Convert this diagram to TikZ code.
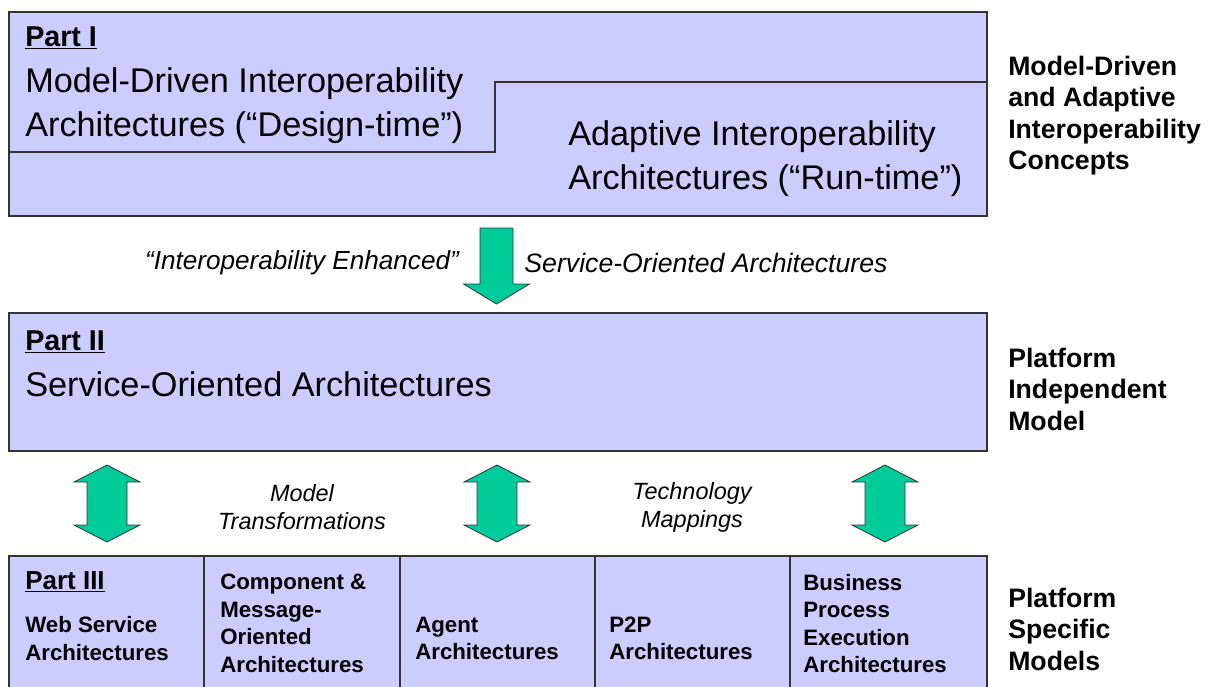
\documentclass[tikz,border=0pt]{standalone}
\usepackage{fontspec}
\setmainfont{Liberation Sans}
\usetikzlibrary{positioning,fit}

\definecolor{boxfill}{HTML}{CCCCFF}
\definecolor{arrowfill}{HTML}{00CC99}
\definecolor{edge}{HTML}{333333}

\begin{document}
\begin{tikzpicture}[x=0.75pt,y=-0.75pt,
  part box/.style={draw=edge, line width=1pt, fill=boxfill, inner sep=0pt},
  arrow body/.style={draw=edge, line width=0.6pt, fill=arrowfill, line join=miter},
  title/.style={font=\fontsize{21.5}{26}\selectfont\bfseries, inner sep=0pt, anchor=west},
  big text/.style={font=\fontsize{25.7}{33}\selectfont, align=left, inner sep=0pt, anchor=west},
  cell text/.style={font=\fontsize{16.7}{20.6}\selectfont\bfseries, align=left, inner sep=0pt, anchor=west},
  side text/.style={font=\fontsize{20}{23.6}\selectfont\bfseries, align=left, inner sep=0pt, anchor=west},
  note/.style={font=\fontsize{17.6}{21}\selectfont\itshape, align=center, inner sep=0pt},
  down arrow/.pic={
    \draw[arrow body] (-16.5,0) -- (16.5,0) -- (16.5,56) -- (33,56) -- (0,76)
      -- (-33,56) -- (-16.5,56) -- cycle;
  },
  both arrow/.pic={
    \draw[arrow body] (0,-38.5) -- (33,-21.5) -- (20,-21.5) -- (20,21.5) -- (33,21.5)
      -- (0,38.5) -- (-33,21.5) -- (-20,21.5) -- (-20,-21.5) -- (-33,-21.5) -- cycle;
  },
  ]
  \useasboundingbox (0,0) rectangle (1209,686);
  \clip (0,0) rectangle (1209,686);

  % Part I
  \node[part box, fit={(9,12) (987,216)}] (partI) {};
  \draw[draw=edge, line width=1pt] (9,152) -- (495,152) -- (495,82) -- (987,82);
  \node[title] (partItitle) at (25,38) {\underline{Part I}};
  \node[big text] (design) at (25,106) {Model-Driven Interoperability\\Architectures (“Design-time”)};
  \node[big text] (runtime) at (568,158.5) {Adaptive Interoperability\\Architectures (“Run-time”)};

  % enhancement arrow
  \pic at (496.5,228) {down arrow};
  \node[note, font=\fontsize{19.6}{24}\selectfont\itshape] (enhanced) at (302,263) {“Interoperability Enhanced”};
  \node[note, font=\fontsize{20}{24}\selectfont\itshape] (soa) at (706,263) {Service-Oriented Architectures};

  % Part II
  \node[part box, fit={(9,313) (987,451)}] (partII) {};
  \node[title] (partIItitle) at (25,342) {\underline{Part II}};
  \node[big text] (soatext) at (25,384) {Service-Oriented Architectures};

  % transformations / mappings
  \pic at (107,503.5) {both arrow};
  \pic at (497,503.5) {both arrow};
  \pic at (885,503.5) {both arrow};
  \node[note] (transf) at (302,507) {Model\\Transformations};
  \node[note] (mappings) at (692,507) {Technology\\Mappings};

  % Part III
  \node[part box, fit={(9,556) (204,700)}] (web) {};
  \node[part box, fit={(204,556) (400,700)}] (comp) {};
  \node[part box, fit={(400,556) (595,700)}] (agent) {};
  \node[part box, fit={(595,556) (790,700)}] (ptp) {};
  \node[part box, fit={(790,556) (987,700)}] (bpel) {};
  \node[title, font=\fontsize{19.5}{24}\selectfont\bfseries] (partIIItitle) at (25,582) {\underline{Part III}};
  \node[cell text] (webtext) at (25,638.5) {Web Service\\Architectures};
  \node[cell text] (comptext) at (220,623.5) {Component \&\\Message-\\Oriented\\Architectures};
  \node[cell text] (agenttext) at (415,638.5) {Agent\\Architectures};
  \node[cell text] (ptptext) at (609,638.5) {P2P\\Architectures};
  \node[cell text] (bpeltext) at (803,623.5) {Business\\Process\\Execution\\Architectures};

  % levels on the right
  \node[side text] (concepts) at (1008,115.5) {Model-Driven\\and Adaptive\\Interoperability\\Concepts};
  \node[side text] (pim) at (1008,389) {Platform\\Independent\\Model};
  \node[side text] (psm) at (1008,629) {Platform\\Specific\\Models};
\end{tikzpicture}
\end{document}
